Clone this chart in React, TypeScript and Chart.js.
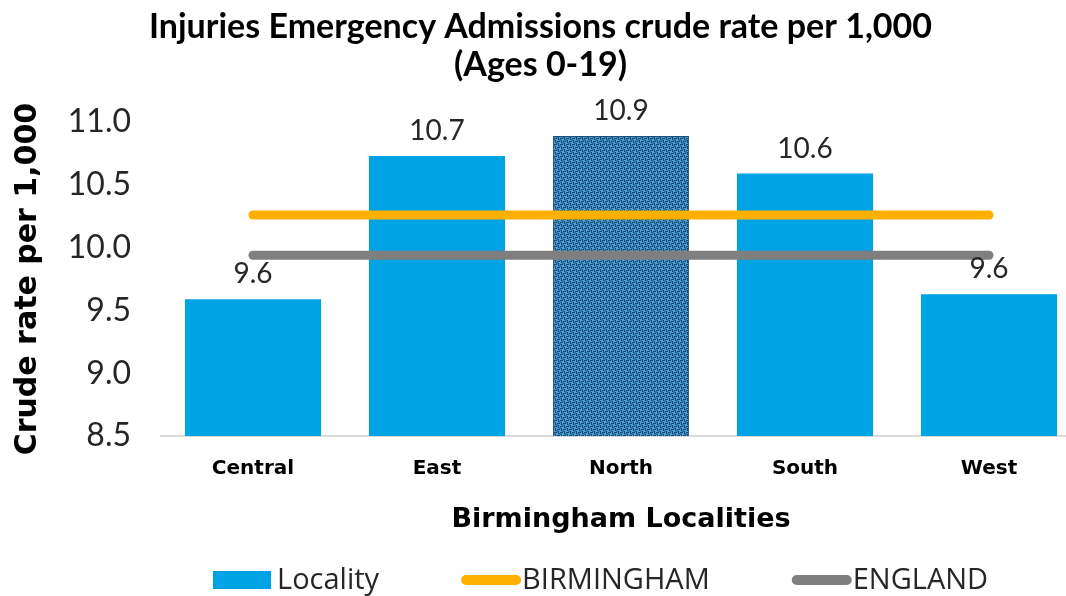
import React, { useEffect, useRef } from 'react';
import { Chart, registerables } from 'chart.js';

Chart.register(...registerables);

// ---- Data ----
const categories = ['Central', 'East', 'North', 'South', 'West'];
const localityValues = [9.59, 10.73, 10.89, 10.59, 9.63];
const birminghamValues = [10.26, 10.26, 10.26, 10.26, 10.26];
const englandValues = [9.94, 9.94, 9.94, 9.94, 9.94];
const yMin = 8.5;
const yMax = 11.0;
const yStep = 0.5;
const highlighted = 'North';
const titleLines = ['Injuries Emergency Admissions crude rate per 1,000', '(Ages 0-19)'];
const xTitle = 'Birmingham Localities';
const yTitle = 'Crude rate per 1,000';
const legendLabels = ['Locality', 'BIRMINGHAM', 'ENGLAND'];

// ---- Styles ----
const BAR_BLUE = '#00A3E4';
const ORANGE = '#FFB000';
const GREY = '#7F7F7F';

function makePattern(): CanvasPattern | string {
  const c = document.createElement('canvas');
  c.width = 6;
  c.height = 6;
  const g = c.getContext('2d');
  if (!g) return '#3A80B6';
  g.fillStyle = '#4C9DD4';
  g.fillRect(0, 0, 6, 6);
  g.fillStyle = '#2E72A8';
  g.fillRect(1, 1, 2, 2);
  g.fillRect(4, 4, 2, 2);
  g.fillStyle = '#154873';
  for (let i = 0; i < 6; i += 2) {
    g.fillRect(i, 0, 1, 1);
    g.fillRect(i + 1, 3, 1, 1);
    g.fillRect(0, i + 1, 1, 1);
    g.fillRect(3, i, 1, 1);
  }
  const p = g.createPattern(c, 'repeat');
  return p || '#3A80B6';
}

const barLabelPlugin = {
  id: 'barLabels',
  afterDatasetsDraw(chart: any) {
    const meta = chart.getDatasetMeta(0);
    const ctx = chart.ctx;
    ctx.save();
    ctx.font = '28px Lato';
    ctx.fillStyle = '#262626';
    ctx.textAlign = 'center';
    ctx.textBaseline = 'alphabetic';
    meta.data.forEach((bar: any, i: number) => {
      ctx.fillText(localityValues[i].toFixed(1), bar.x, bar.y - 16);
    });
    ctx.restore();
  },
};

const legendPlugin = {
  id: 'customLegend',
  afterDraw(chart: any) {
    const ctx = chart.ctx;
    const cy = chart.height - 16;
    const colors = [BAR_BLUE, ORANGE, GREY];
    let x = 213;
    ctx.save();
    ctx.font = '29px "Open Sans"';
    ctx.textBaseline = 'middle';
    ctx.textAlign = 'left';
    legendLabels.forEach((label, i) => {
      if (i === 0) {
        ctx.fillStyle = colors[i];
        ctx.fillRect(x, cy - 9, 58, 18);
        x += 58 + 6;
      } else {
        ctx.strokeStyle = colors[i];
        ctx.lineWidth = 10;
        ctx.lineCap = 'round';
        ctx.beginPath();
        ctx.moveTo(x + 5, cy);
        ctx.lineTo(x + 55, cy);
        ctx.stroke();
        x += 60 + 1;
      }
      ctx.fillStyle = '#262626';
      ctx.fillText(label, x, cy + 1);
      x += ctx.measureText(label).width + 82;
    });
    ctx.restore();
  },
};

export default function App() {
  const ref = useRef<HTMLCanvasElement>(null);

  useEffect(() => {
    const canvas = ref.current;
    if (!canvas) return;
    const pattern = makePattern();
    const bgColors = categories.map((c) => (c === highlighted ? pattern : BAR_BLUE));
    const borderColors = categories.map((c) => (c === highlighted ? '#1F4E79' : BAR_BLUE));
    const borderWidths = categories.map((c) => (c === highlighted ? 1 : 0));

    const chart = new Chart(canvas, {
      type: 'bar',
      data: {
        labels: categories,
        datasets: [
          {
            type: 'bar',
            label: legendLabels[0],
            data: localityValues,
            backgroundColor: bgColors as any,
            borderColor: borderColors,
            borderWidth: borderWidths,
            categoryPercentage: 1,
            barPercentage: 0.74,
            order: 2,
          },
          {
            type: 'line',
            label: legendLabels[1],
            data: birminghamValues,
            borderColor: ORANGE,
            backgroundColor: ORANGE,
            borderWidth: 9,
            borderCapStyle: 'round',
            pointRadius: 0,
            fill: false,
            order: 1,
          },
          {
            type: 'line',
            label: legendLabels[2],
            data: englandValues,
            borderColor: GREY,
            backgroundColor: GREY,
            borderWidth: 9,
            borderCapStyle: 'round',
            pointRadius: 0,
            fill: false,
            order: 0,
          },
        ] as any,
      },
      options: {
        responsive: false,
        animation: false,
        layout: { padding: { left: 0, right: 15, top: 0, bottom: 60 } },
        plugins: {
          legend: { display: false },
          tooltip: { enabled: false },
          title: {
            display: true,
            text: titleLines,
            color: '#000',
            font: { family: 'Lato', size: 34, weight: 'bold', lineHeight: 1.09 },
            padding: { top: 9, bottom: 39 },
          },
        },
        scales: {
          x: {
            type: 'category',
            offset: true,
            grid: { display: false },
            border: { display: true, color: '#D9D9D9', width: 2 },
            ticks: {
              color: '#000',
              font: { family: 'DejaVu Sans', size: 20, weight: 'bold' },
              padding: 13,
            },
            title: {
              display: true,
              text: xTitle,
              color: '#000',
              font: { family: 'DejaVu Sans', size: 27, weight: 'bold', lineHeight: 1.2 },
              padding: { top: 0, bottom: 0 },
            },
            afterFit: (scale: any) => {
              scale.height = 100;
            },
          },
          y: {
            min: yMin,
            max: yMax,
            grid: { display: false, drawTicks: false },
            border: { display: false },
            ticks: {
              stepSize: yStep,
              color: '#262626',
              font: { family: 'Lato', size: 32 },
              padding: 30,
              callback: (v: any) => Number(v).toFixed(1),
            },
            title: {
              display: true,
              text: yTitle,
              color: '#000',
              font: { family: 'DejaVu Sans', size: 30, weight: 'bold', lineHeight: 1.2 },
              padding: { top: 10, bottom: 0 },
            },
            afterFit: (scale: any) => {
              scale.width = 161;
            },
          },
        },
      },
      plugins: [barLabelPlugin, legendPlugin],
    });
    return () => chart.destroy();
  }, []);

  return (
    <div
      style={{
        position: 'absolute',
        left: 0,
        top: 0,
        width: 1066,
        height: 596,
        overflow: 'hidden',
        background: '#fff',
      }}
    >
      <canvas ref={ref} width={1096} height={596} style={{ display: 'block' }} />
    </div>
  );
}
